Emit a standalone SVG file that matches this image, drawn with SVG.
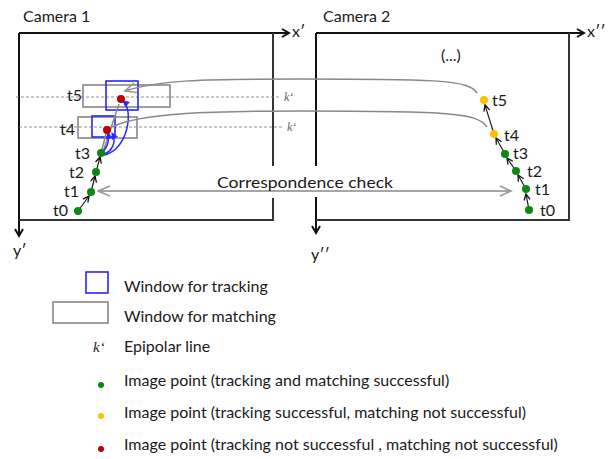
<svg xmlns="http://www.w3.org/2000/svg" width="608" height="459" viewBox="0 0 608 459">
<defs>
<style>
.t{font-family:Lato,"Liberation Sans",sans-serif;font-size:16px;fill:#1a1a1a}
.k{font-family:"Liberation Serif",serif;font-style:italic;font-size:12px;fill:#666}
.ax{stroke:#111;stroke-width:2;fill:none}
.box{stroke:#333;stroke-width:2;fill:none}
.gw{stroke:#888;stroke-width:1.6;fill:none}
.bw{stroke:#2626ff;stroke-width:1.6;fill:none}
.dash{stroke:#777;stroke-width:0.8;stroke-dasharray:3 2;fill:none}
.gl{stroke:#888;stroke-width:1.5;fill:none}
.bl{stroke:#111;stroke-width:1.1;fill:none}
.bc{stroke:#2a2aff;stroke-width:1.5;fill:none}
.g{fill:#0b8a12}.y{fill:#ffc000}.r{fill:#c00000}
</style>
<marker id="ah" markerWidth="10" markerHeight="10" refX="8" refY="5" orient="auto" markerUnits="userSpaceOnUse"><path d="M1,1 L8,5 L1,9" fill="none" stroke="#111" stroke-width="2"/></marker>
<marker id="ab" markerWidth="8" markerHeight="8" refX="7" refY="4" orient="auto" markerUnits="userSpaceOnUse"><path d="M1,1 L7,4 L1,7" fill="none" stroke="#111" stroke-width="1.3"/></marker>
<marker id="ag" markerWidth="14" markerHeight="12" refX="12" refY="6" orient="auto" markerUnits="userSpaceOnUse"><path d="M1,1 L12,6 L1,11" fill="none" stroke="#999" stroke-width="1.6"/></marker>
<marker id="agb" markerWidth="14" markerHeight="12" refX="1" refY="6" orient="auto" markerUnits="userSpaceOnUse"><path d="M13,1 L1,6 L13,11" fill="none" stroke="#999" stroke-width="1.6"/></marker>
<marker id="abl" markerWidth="8" markerHeight="8" refX="6" refY="4" orient="auto" markerUnits="userSpaceOnUse"><path d="M0,0.5 L7,4 L0,7.5 Z" fill="#2a2aff"/></marker>
</defs>

<g id="camera1">
<text class="t" x="23" y="22">Camera 1</text>
<path class="ax" d="M19,33 H289" marker-end="url(#ah)"/>
<path class="ax" d="M19,33 V236" marker-end="url(#ah)"/>
<path class="box" d="M273,33 V166 M273,198 V220 H19"/>
<text class="t" x="292" y="37">x′</text>
<text class="t" x="13" y="256">y′</text>
<line class="dash" x1="16" y1="97" x2="279" y2="97"/>
<text class="k" x="284" y="101">k‘</text>
<line class="dash" x1="19" y1="127" x2="283" y2="127"/>
<text class="k" x="287" y="131">k‘</text>
</g>

<g id="camera2">
<text class="t" x="323" y="22">Camera 2</text>
<path class="ax" d="M316,33 H584" marker-end="url(#ah)"/>
<path class="ax" d="M316,33 V166 M316,197 V233" marker-end="url(#ah)"/>
<path class="box" d="M569,33 V220 H316"/>
<text class="t" x="587" y="37">x′′</text>
<text class="t" x="311" y="260">y′′</text>
<text class="t" x="441" y="61">(...)</text>
</g>

<g id="windows">
<rect class="gw" x="83" y="85" width="87" height="22"/>
<rect class="gw" x="78" y="117" width="59" height="21"/>
<rect class="bw" x="106" y="81" width="32" height="29"/>
<rect class="bw" x="92" y="116" width="23" height="21"/>
</g>

<g id="connectors">
<line class="bl" x1="78" y1="211" x2="89" y2="196" marker-end="url(#ab)"/>
<line class="bl" x1="91" y1="192" x2="95" y2="176" marker-end="url(#ab)"/>
<line class="bl" x1="96" y1="172" x2="100" y2="157" marker-end="url(#ab)"/>
<line class="gl" x1="101" y1="153" x2="106" y2="134" stroke-width="1"/>
<line class="gl" x1="103" y1="152" x2="119" y2="104" stroke-width="1"/>
<path class="bc" d="M101,153 C106,150 110,142 108,133" marker-end="url(#abl)"/>
<path class="bc" d="M103,154 C112,152 117,142 112,133" marker-end="url(#abl)"/>
<path class="bc" d="M104,155 C128,150 134,110 123,101" marker-end="url(#abl)"/>
<path class="gl" d="M477,93 C468,80 440,79 300,79 C200,79 160,80 125,91" marker-end="url(#ag)"/>
<path class="gl" d="M487,127 C478,113 450,111 300,111 C210,111 140,113 112,127"/>
<path class="gl" d="M98,191 H511" marker-start="url(#agb)" marker-end="url(#ag)"/>
<line class="bl" x1="529" y1="210" x2="526" y2="194" marker-end="url(#ab)"/>
<line class="bl" x1="526" y1="189" x2="518" y2="175" marker-end="url(#ab)"/>
<line class="bl" x1="516" y1="171" x2="507" y2="158" marker-end="url(#ab)"/>
<line class="bl" x1="505" y1="154" x2="496" y2="138" marker-end="url(#ab)"/>
<line class="bl" x1="494" y1="134" x2="485" y2="105" marker-end="url(#ab)"/>
<rect x="214" y="174" width="174" height="16" fill="#fff"/>
<text class="t" x="217" y="188" textLength="176" lengthAdjust="spacingAndGlyphs">Correspondence check</text>
</g>

<g id="points-cam1">
<circle class="g" cx="78" cy="211" r="4"/>
<circle class="g" cx="91" cy="192" r="4"/>
<circle class="g" cx="96" cy="172" r="4"/>
<circle class="g" cx="101" cy="153" r="4"/>
<circle class="r" cx="107" cy="130" r="4"/>
<circle class="r" cx="121" cy="99" r="4"/>
<text class="t" x="53" y="216">t0</text>
<text class="t" x="64" y="197">t1</text>
<text class="t" x="69" y="178">t2</text>
<text class="t" x="75" y="159">t3</text>
<text class="t" x="60" y="135">t4</text>
<text class="t" x="67" y="101">t5</text>
</g>

<g id="points-cam2">
<circle class="g" cx="529" cy="210" r="4"/>
<circle class="g" cx="526" cy="189" r="4"/>
<circle class="g" cx="516" cy="171" r="4"/>
<circle class="g" cx="505" cy="154" r="4"/>
<circle class="y" cx="494" cy="134" r="4"/>
<circle class="y" cx="484" cy="100" r="4"/>
<text class="t" x="540" y="216">t0</text>
<text class="t" x="535" y="195">t1</text>
<text class="t" x="527" y="177">t2</text>
<text class="t" x="513" y="159">t3</text>
<text class="t" x="504" y="141">t4</text>
<text class="t" x="492" y="106">t5</text>
</g>

<g id="legend">
<rect x="86" y="272" width="22" height="21" fill="none" stroke="#2626ff" stroke-width="1.6"/>
<text class="t" x="124" y="292">Window for tracking</text>
<rect x="53" y="302" width="55" height="21" fill="none" stroke="#888" stroke-width="1.6"/>
<text class="t" x="124" y="322">Window for matching</text>
<text class="k" x="93" y="352" style="font-size:15px;fill:#222">k‘</text>
<text class="t" x="124" y="352">Epipolar line</text>
<circle class="g" cx="101" cy="385" r="3"/>
<text class="t" x="124" y="386">Image point (tracking and matching successful)</text>
<circle class="y" cx="101" cy="416" r="3"/>
<text class="t" x="124" y="418">Image point (tracking successful, matching not successful)</text>
<circle class="r" cx="101" cy="449" r="3"/>
<text class="t" x="124" y="450">Image point (tracking not successful , matching not successful)</text>
</g>
</svg>
